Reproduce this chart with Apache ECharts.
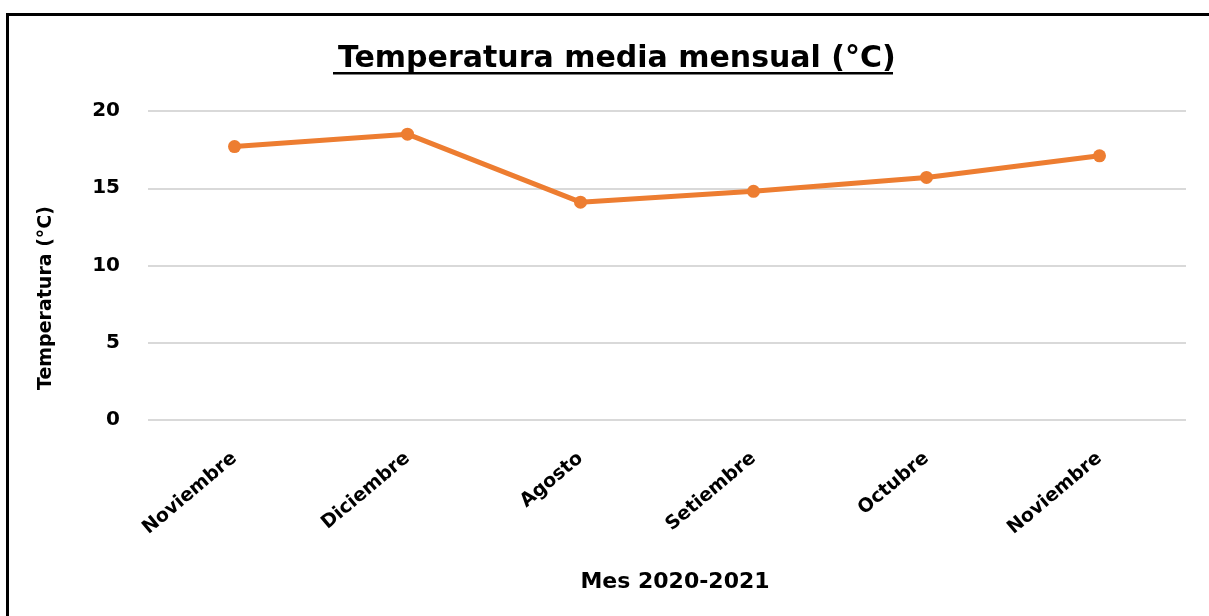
<!DOCTYPE html>
<html><head><meta charset="utf-8">
<script src="https://cdn.jsdelivr.net/npm/echarts@6/dist/echarts.min.js"></script>
<style>html,body{margin:0;padding:0;background:#fff}#c{width:1209px;height:616px}</style>
</head><body><div id="c"></div>
<script>
const categories = ["Noviembre","Diciembre","Agosto","Setiembre","Octubre","Noviembre"];
const temperatures = [17.7, 18.5, 14.1, 14.8, 15.7, 17.1];
const titleText = "Temperatura media mensual (°C)";
const yAxisName = "Temperatura (°C)";
const xAxisName = "Mes 2020-2021";

const FONT = "DejaVu Sans";
const chart = echarts.init(document.getElementById('c'));
chart.setOption({
  backgroundColor: '#fff',
  animation: false,
  title: {
    text: titleText, left: 333, top: 39,
    textStyle: {fontFamily: FONT, fontWeight: 'bold', fontSize: 30, color: '#000'}
  },
  graphic: [
    {type: 'rect', left: 5, top: 12, shape: {width: 1230, height: 640},
     style: {fill: 'none', stroke: '#000', lineWidth: 3}, silent: true},
    {type: 'rect', left: 333, top: 72, shape: {width: 560, height: 2.5},
     style: {fill: '#000'}, silent: true},
    {type: 'text', left: 37, top: 206, rotation: Math.PI/2,
     style: {text: yAxisName, font: 'bold 19px "DejaVu Sans"', fill: '#000'}}
  ],
  grid: {left: 148, right: 23, top: 111, bottom: 196},
  xAxis: {
    type: 'category', data: categories, boundaryGap: true,
    axisLine: {show: false}, axisTick: {show: false},
    axisLabel: {rotate: 40, margin: 36, fontFamily: FONT, fontWeight: 'bold', fontSize: 19, color: '#000'},
    name: xAxisName, nameLocation: 'middle', nameGap: 151,
    nameTextStyle: {fontFamily: FONT, fontWeight: 'bold', fontSize: 22, color: '#000', padding: [0, 0, 0, 16]}
  },
  yAxis: {
    type: 'value', min: 0, max: 20, interval: 5,
    axisLine: {show: false}, axisTick: {show: false},
    splitLine: {lineStyle: {color: '#d9d9d9', width: 2}},
    axisLabel: {margin: 28, fontFamily: FONT, fontWeight: 'bold', fontSize: 20, color: '#000'}
  },
  series: [{
    type: 'line', data: temperatures,
    symbol: 'circle', symbolSize: 13,
    lineStyle: {color: '#ED7D31', width: 5},
    itemStyle: {color: '#ED7D31'}
  }]
});
</script></body></html>
